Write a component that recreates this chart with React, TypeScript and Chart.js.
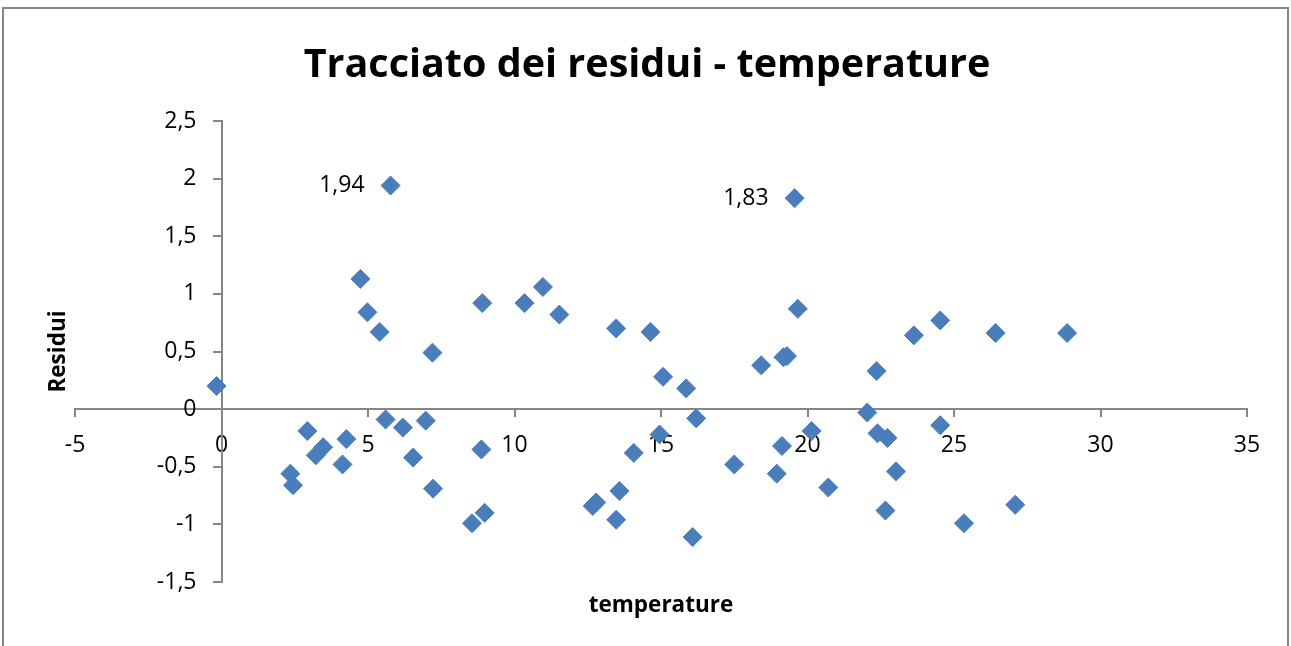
import React, { useEffect, useRef } from 'react';
import { Chart, registerables } from 'chart.js';

Chart.register(...registerables);

// ---- Data ----
const temperature: number[] = [
  -0.17, 2.35, 2.44, 2.93, 3.22, 3.47, 4.26, 4.13, 4.74, 4.98,
  5.40, 5.60, 5.77, 6.19, 6.54, 6.97, 7.20, 7.22, 8.55, 8.90,
  8.87, 8.98, 10.34, 10.97, 11.53, 12.67, 12.79, 13.47, 13.58, 13.47,
  14.07, 14.64, 14.95, 15.07, 15.86, 16.20, 16.08, 17.50, 18.42, 18.95,
  19.13, 19.18, 19.30, 19.56, 19.67, 20.14, 20.71, 22.04, 22.36, 22.39,
  22.73, 22.66, 23.02, 23.63, 24.53, 24.53, 25.34, 26.42, 27.09, 28.86,
];
const residui: number[] = [
  0.20, -0.56, -0.66, -0.19, -0.40, -0.33, -0.26, -0.48, 1.13, 0.84,
  0.67, -0.09, 1.94, -0.16, -0.42, -0.10, 0.49, -0.69, -0.99, 0.92,
  -0.35, -0.90, 0.92, 1.06, 0.82, -0.84, -0.81, 0.70, -0.71, -0.96,
  -0.38, 0.67, -0.22, 0.28, 0.18, -0.08, -1.11, -0.48, 0.38, -0.56,
  -0.32, 0.45, 0.46, 1.83, 0.87, -0.19, -0.68, -0.03, 0.33, -0.21,
  -0.25, -0.88, -0.54, 0.64, 0.77, -0.14, -0.99, 0.66, -0.83, 0.66,
];
const labeledIndices: number[] = [12, 43];

const chartTitle = 'Tracciato dei residui - temperature';
const xAxisTitle = 'temperature';
const yAxisTitle = 'Residui';

const xMin = -5;
const xMax = 35;
const xStep = 5;
const yMin = -1.5;
const yMax = 2.5;
const yStep = 0.5;

const FONT = '"Open Sans", "Liberation Sans", sans-serif';
const AXIS_GRAY = '#868686';
const MARKER = '#4a7ebb';

const fmtTick = (v: number) => String(Math.round(v * 10) / 10).replace('.', ',');
const fmtLabel = (v: number) => v.toFixed(2).replace('.', ',');

const decorPlugin = {
  id: 'decor',
  afterDraw(chart: any) {
    const { ctx, chartArea, scales } = chart;
    const xs = scales.x;
    const ys = scales.y;
    ctx.save();
    ctx.fillStyle = '#000';

    // Chart title
    ctx.font = `bold 39.5px ${FONT}`;
    ctx.textAlign = 'center';
    ctx.textBaseline = 'alphabetic';
    ctx.fillText(chartTitle, 647, 77);

    // X axis title
    ctx.font = `bold 22.5px ${FONT}`;
    ctx.fillText(xAxisTitle, (chartArea.left + chartArea.right) / 2, 612);

    // Y axis title (rotated)
    ctx.save();
    ctx.translate(65, (chartArea.top + chartArea.bottom) / 2);
    ctx.rotate(-Math.PI / 2);
    ctx.fillText(yAxisTitle, 0, 0);
    ctx.restore();

    // Y tick labels next to the axis crossing at x = 0
    ctx.font = `23px ${FONT}`;
    ctx.textAlign = 'right';
    ctx.textBaseline = 'middle';
    const axisX = xs.getPixelForValue(0);
    ys.ticks.forEach((t: any) => {
      ctx.fillText(fmtTick(t.value), axisX - 25, ys.getPixelForValue(t.value));
    });

    // Data labels
    const meta = chart.getDatasetMeta(0);
    labeledIndices.forEach((i) => {
      const el = meta.data[i];
      if (!el) return;
      ctx.fillText(fmtLabel(residui[i]), el.x - 26, el.y);
    });
    ctx.restore();
  },
};

export default function App() {
  const canvasRef = useRef<HTMLCanvasElement | null>(null);

  useEffect(() => {
    if (!canvasRef.current) return;
    const points = temperature.map((x, i) => ({ x, y: residui[i] }));
    const chart = new Chart(canvasRef.current, {
      type: 'scatter',
      data: {
        datasets: [
          {
            label: 'Residui',
            data: points,
            pointStyle: 'rectRot',
            pointRadius: 9.5,
            pointHoverRadius: 9.5,
            backgroundColor: MARKER,
            borderColor: MARKER,
            borderWidth: 1,
          },
        ],
      },
      options: {
        responsive: false,
        animation: false,
        events: [],
        layout: { padding: { left: 75, top: 121, right: 44, bottom: 64 } },
        plugins: {
          legend: { display: false },
          title: { display: false },
          tooltip: { enabled: false },
        },
        scales: {
          x: {
            type: 'linear',
            position: { y: 0 } as any,
            min: xMin,
            max: xMax,
            ticks: {
              stepSize: xStep,
              color: '#000',
              font: { family: FONT, size: 23 },
              padding: 16,
              maxRotation: 0,
              callback: (v: any) => fmtTick(Number(v)),
            },
            grid: {
              display: true,
              drawOnChartArea: false,
              drawTicks: true,
              tickLength: 7,
              color: AXIS_GRAY,
              lineWidth: 2,
            },
            border: { display: true, color: AXIS_GRAY, width: 2 },
          },
          y: {
            type: 'linear',
            position: { x: 0 } as any,
            min: yMin,
            max: yMax,
            ticks: {
              stepSize: yStep,
              display: false,
            },
            grid: {
              display: true,
              drawOnChartArea: false,
              drawTicks: true,
              tickLength: 8,
              color: AXIS_GRAY,
              lineWidth: 2,
            },
            border: { display: true, color: AXIS_GRAY, width: 2 },
          },
        },
      },
      plugins: [decorPlugin],
    });
    return () => chart.destroy();
  }, []);

  return (
    <div
      style={{
        position: 'fixed',
        left: 0,
        top: 0,
        width: 1291,
        height: 646,
        overflow: 'hidden',
        background: '#fff',
      }}
    >
      <canvas
        ref={canvasRef}
        width={1291}
        height={646}
        style={{ position: 'absolute', left: 0, top: 0, width: 1291, height: 646 }}
      />
      <div
        style={{
          position: 'absolute',
          left: 2,
          top: 7,
          width: 1287,
          height: 720,
          boxSizing: 'border-box',
          border: `2px solid ${AXIS_GRAY}`,
          pointerEvents: 'none',
        }}
      />
    </div>
  );
}
